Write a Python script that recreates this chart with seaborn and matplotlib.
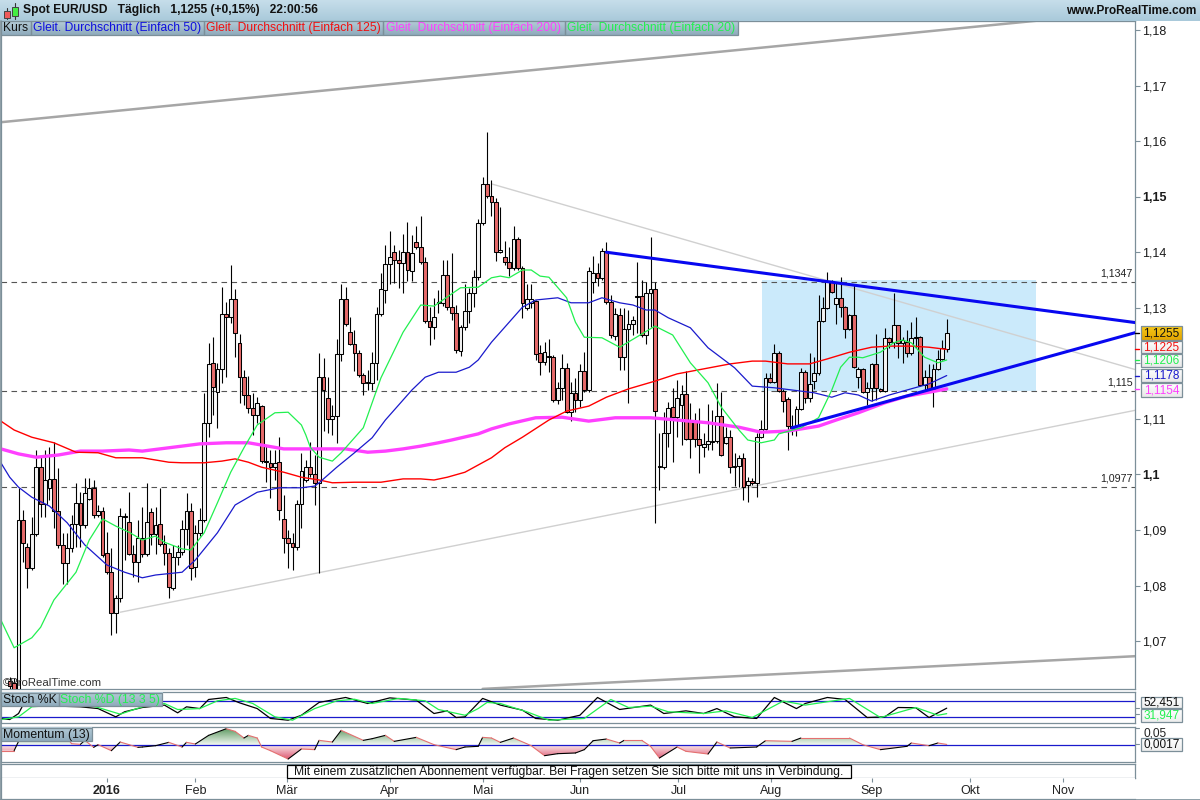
import numpy as np
import matplotlib
matplotlib.use('Agg')
import matplotlib.pyplot as plt
from matplotlib.colors import LinearSegmentedColormap
from matplotlib.patches import PathPatch, Rectangle
from matplotlib.path import Path
from matplotlib.transforms import blended_transform_factory
import seaborn as sns

# daily candles, values
opens = [1.0628, 1.0625, 1.0612, 1.0918, 1.0869, 1.0832, 1.0893, 1.1013, 1.0947, 1.0976,
         1.0992, 1.0934, 1.0873, 1.0841, 1.0868, 1.0911, 1.0949, 1.0909, 1.0956, 1.0976,
         1.0927, 1.0934, 1.0859, 1.0824, 1.0751, 1.0778, 1.0925, 1.0914, 1.0857, 1.0842,
         1.0886, 1.0857, 1.0932, 1.0893, 1.0911, 1.0875, 1.0859, 1.0796, 1.0851, 1.0860,
         1.0902, 1.0934, 1.0833, 1.0895, 1.0918, 1.1093, 1.1201, 1.1148, 1.1190, 1.1289,
         1.1283, 1.1316, 1.1237, 1.1175, 1.1143, 1.1120, 1.1107, 1.1123, 1.1024, 1.1021,
         1.1013, 1.1022, 1.0920, 1.0886, 1.0877, 1.0869, 1.0947, 1.0990, 1.1013, 1.1001,
         1.0985, 1.1175, 1.1138, 1.1100, 1.1105, 1.1217, 1.1316, 1.1256, 1.1235, 1.1219,
         1.1179, 1.1166, 1.1165, 1.1201, 1.1289, 1.1332, 1.1379, 1.1400, 1.1386, 1.1381,
         1.1400, 1.1366, 1.1418, 1.1409, 1.1382, 1.1276, 1.1265, 1.1309, 1.1309, 1.1359,
         1.1301, 1.1291, 1.1222, 1.1265, 1.1294, 1.1327, 1.1355, 1.1453, 1.1523, 1.1501,
         1.1490, 1.1400, 1.1391, 1.1382, 1.1372, 1.1424, 1.1372, 1.1300, 1.1309, 1.1312,
         1.1219, 1.1202, 1.1213, 1.1211, 1.1134, 1.1156, 1.1192, 1.1112, 1.1147, 1.1134,
         1.1186, 1.1152, 1.1346, 1.1363, 1.1354, 1.1402, 1.1310, 1.1249, 1.1287, 1.1211,
         1.1262, 1.1271, 1.1321, 1.1321, 1.1251, 1.1327, 1.1334, 1.1013, 1.1013, 1.1075,
         1.1121, 1.1103, 1.1125, 1.1145, 1.1096, 1.1096, 1.1064, 1.1049, 1.1055, 1.1058,
         1.1060, 1.1105, 1.1057, 1.1067, 1.1013, 1.1015, 1.1030, 1.0981, 1.0988, 1.0985,
         1.1067, 1.1082, 1.1174, 1.1166, 1.1219, 1.1150, 1.1136, 1.1084, 1.1087, 1.1118,
         1.1184, 1.1138, 1.1168, 1.1183, 1.1276, 1.1300, 1.1346, 1.1307, 1.1318, 1.1301,
         1.1262, 1.1287, 1.1175, 1.1190, 1.1148, 1.1156, 1.1199, 1.1154, 1.1150, 1.1246,
         1.1238, 1.1269, 1.1237, 1.1238, 1.1219, 1.1247, 1.1247, 1.1161, 1.1175, 1.1154,
         1.1190, 1.1208, 1.1226]
closes = [1.0619, 1.0612, 1.0918, 1.0877, 1.0832, 1.0893, 1.1013, 1.0947, 1.0990, 1.0992,
          1.0934, 1.0873, 1.0841, 1.0868, 1.0911, 1.0949, 1.0909, 1.0967, 1.0976, 1.0927,
          1.0934, 1.0855, 1.0824, 1.0751, 1.0778, 1.0925, 1.0923, 1.0857, 1.0842, 1.0886,
          1.0857, 1.0914, 1.0893, 1.0909, 1.0875, 1.0859, 1.0797, 1.0851, 1.0860, 1.0902,
          1.0934, 1.0832, 1.0895, 1.0918, 1.1093, 1.1199, 1.1157, 1.1190, 1.1289, 1.1283,
          1.1316, 1.1255, 1.1175, 1.1143, 1.1120, 1.1107, 1.1129, 1.1024, 1.1022, 1.1013,
          1.1021, 1.0936, 1.0886, 1.0877, 1.0869, 1.0947, 1.1006, 1.1013, 1.1001, 1.0985,
          1.1175, 1.1152, 1.1100, 1.1105, 1.1217, 1.1316, 1.1271, 1.1235, 1.1219, 1.1179,
          1.1165, 1.1165, 1.1201, 1.1289, 1.1334, 1.1379, 1.1391, 1.1386, 1.1381, 1.1400,
          1.1368, 1.1399, 1.1409, 1.1382, 1.1276, 1.1265, 1.1283, 1.1310, 1.1359, 1.1301,
          1.1291, 1.1224, 1.1265, 1.1294, 1.1327, 1.1355, 1.1453, 1.1523, 1.1501, 1.1490,
          1.1400, 1.1404, 1.1382, 1.1372, 1.1424, 1.1372, 1.1309, 1.1316, 1.1316, 1.1217,
          1.1202, 1.1220, 1.1211, 1.1134, 1.1156, 1.1192, 1.1112, 1.1147, 1.1134, 1.1186,
          1.1152, 1.1366, 1.1363, 1.1354, 1.1402, 1.1310, 1.1251, 1.1289, 1.1211, 1.1262,
          1.1271, 1.1278, 1.1319, 1.1251, 1.1327, 1.1334, 1.1114, 1.1015, 1.1075, 1.1120,
          1.1103, 1.1138, 1.1145, 1.1064, 1.1064, 1.1064, 1.1053, 1.1055, 1.1060, 1.1060,
          1.1105, 1.1035, 1.1067, 1.1013, 1.1015, 1.1030, 1.0977, 1.0988, 1.0985, 1.1067,
          1.1082, 1.1174, 1.1166, 1.1219, 1.1150, 1.1132, 1.1087, 1.1087, 1.1118, 1.1184,
          1.1138, 1.1163, 1.1183, 1.1276, 1.1300, 1.1346, 1.1328, 1.1318, 1.1301, 1.1262,
          1.1287, 1.1193, 1.1190, 1.1148, 1.1156, 1.1199, 1.1156, 1.1150, 1.1246, 1.1238,
          1.1269, 1.1237, 1.1242, 1.1219, 1.1246, 1.1246, 1.1161, 1.1175, 1.1154, 1.1190,
          1.1208, 1.1228, 1.1255]
highs = [1.0635, 1.0634, 1.0976, 1.0936, 1.0877, 1.0923, 1.1044, 1.1031, 1.1044, 1.1049,
         1.1058, 1.1012, 1.0895, 1.0895, 1.0927, 1.0985, 1.0968, 1.0994, 1.0994, 1.0990,
         1.0945, 1.0941, 1.0896, 1.0868, 1.0783, 1.0940, 1.0931, 1.0968, 1.0873, 1.0918,
         1.0941, 1.0985, 1.0940, 1.0941, 1.0976, 1.0891, 1.0868, 1.0873, 1.0873, 1.0918,
         1.0967, 1.0949, 1.0909, 1.0940, 1.1147, 1.1237, 1.1247, 1.1201, 1.1337, 1.1310,
         1.1377, 1.1334, 1.1253, 1.1188, 1.1177, 1.1147, 1.1139, 1.1125, 1.1053, 1.1044,
         1.1044, 1.1067, 1.0963, 1.0900, 1.0895, 1.0954, 1.1039, 1.1026, 1.1058, 1.1035,
         1.1219, 1.1210, 1.1175, 1.1125, 1.1244, 1.1343, 1.1337, 1.1283, 1.1260, 1.1224,
         1.1183, 1.1188, 1.1220, 1.1301, 1.1363, 1.1413, 1.1438, 1.1413, 1.1404, 1.1433,
         1.1454, 1.1431, 1.1447, 1.1465, 1.1391, 1.1301, 1.1318, 1.1332, 1.1386, 1.1386,
         1.1399, 1.1305, 1.1269, 1.1343, 1.1336, 1.1368, 1.1460, 1.1535, 1.1616, 1.1530,
         1.1498, 1.1481, 1.1420, 1.1409, 1.1447, 1.1427, 1.1375, 1.1343, 1.1343, 1.1314,
         1.1233, 1.1238, 1.1244, 1.1215, 1.1166, 1.1217, 1.1201, 1.1166, 1.1174, 1.1199,
         1.1220, 1.1373, 1.1393, 1.1381, 1.1408, 1.1418, 1.1323, 1.1300, 1.1300, 1.1300,
         1.1296, 1.1285, 1.1382, 1.1350, 1.1346, 1.1427, 1.1346, 1.1075, 1.1112, 1.1130,
         1.1156, 1.1170, 1.1161, 1.1186, 1.1129, 1.1111, 1.1120, 1.1075, 1.1127, 1.1116,
         1.1165, 1.1148, 1.1085, 1.1080, 1.1039, 1.1035, 1.1039, 1.0995, 1.0994, 1.1075,
         1.1098, 1.1183, 1.1183, 1.1235, 1.1222, 1.1154, 1.1139, 1.1107, 1.1123, 1.1192,
         1.1188, 1.1219, 1.1211, 1.1323, 1.1319, 1.1364, 1.1350, 1.1346, 1.1355, 1.1303,
         1.1289, 1.1341, 1.1193, 1.1192, 1.1166, 1.1201, 1.1253, 1.1156, 1.1264, 1.1247,
         1.1327, 1.1269, 1.1247, 1.1260, 1.1274, 1.1283, 1.1249, 1.1188, 1.1199, 1.1199,
         1.1224, 1.1242, 1.1280]
lows = [1.0608, 1.0601, 1.0599, 1.0842, 1.0796, 1.0828, 1.0889, 1.0923, 1.0923, 1.0954,
        1.0904, 1.0868, 1.0803, 1.0803, 1.0860, 1.0869, 1.0869, 1.0904, 1.0954, 1.0922,
        1.0923, 1.0851, 1.0821, 1.0711, 1.0715, 1.0770, 1.0846, 1.0855, 1.0815, 1.0806,
        1.0851, 1.0853, 1.0873, 1.0857, 1.0871, 1.0837, 1.0778, 1.0792, 1.0837, 1.0855,
        1.0873, 1.0810, 1.0815, 1.0889, 1.0914, 1.1067, 1.1107, 1.1084, 1.1165, 1.1175,
        1.1273, 1.1211, 1.1129, 1.1125, 1.1111, 1.1071, 1.1093, 1.1020, 1.0986, 1.0958,
        1.0990, 1.0918, 1.0859, 1.0832, 1.0828, 1.0864, 1.0904, 1.0986, 1.0995, 1.0945,
        1.0823, 1.1078, 1.1075, 1.1071, 1.1057, 1.1204, 1.1267, 1.1233, 1.1186, 1.1175,
        1.1143, 1.1152, 1.1152, 1.1170, 1.1285, 1.1309, 1.1343, 1.1345, 1.1336, 1.1327,
        1.1348, 1.1348, 1.1406, 1.1379, 1.1273, 1.1233, 1.1244, 1.1291, 1.1303, 1.1296,
        1.1278, 1.1219, 1.1213, 1.1260, 1.1273, 1.1301, 1.1350, 1.1449, 1.1498, 1.1465,
        1.1384, 1.1399, 1.1377, 1.1357, 1.1368, 1.1368, 1.1282, 1.1296, 1.1300, 1.1206,
        1.1179, 1.1197, 1.1184, 1.1130, 1.1127, 1.1134, 1.1111, 1.1096, 1.1112, 1.1121,
        1.1148, 1.1148, 1.1327, 1.1339, 1.1350, 1.1307, 1.1246, 1.1242, 1.1188, 1.1188,
        1.1129, 1.1251, 1.1255, 1.1247, 1.1235, 1.1265, 1.0913, 1.0972, 1.1010, 1.1049,
        1.1022, 1.1067, 1.1053, 1.1062, 1.1030, 1.1049, 1.1003, 1.1031, 1.1044, 1.1044,
        1.1057, 1.1033, 1.1055, 1.1003, 1.0979, 1.0977, 1.0954, 1.0950, 1.0981, 1.0959,
        1.1066, 1.1080, 1.1165, 1.1165, 1.1148, 1.1112, 1.1044, 1.1071, 1.1069, 1.1116,
        1.1129, 1.1130, 1.1154, 1.1179, 1.1274, 1.1298, 1.1327, 1.1271, 1.1283, 1.1246,
        1.1260, 1.1192, 1.1156, 1.1147, 1.1125, 1.1132, 1.1134, 1.1148, 1.1148, 1.1228,
        1.1228, 1.1210, 1.1201, 1.1211, 1.1215, 1.1228, 1.1159, 1.1148, 1.1152, 1.1121,
        1.1188, 1.1206, 1.1220]

# moving averages: bar number and level
sma20_bars = [-2, 1, 5, 7, 10, 15, 18, 21, 24, 27, 30, 33, 35, 39, 41, 44, 47, 50, 53, 56, 60, 63, 66, 67,
              68, 70, 73, 75, 80, 84, 89, 93, 96, 102, 106, 109, 111, 113, 116, 118, 120, 122, 126, 128,
              130, 134, 138, 146, 150, 154, 158, 161, 165, 167, 170, 173, 174, 179, 183, 186, 188, 190,
              192, 193, 197, 200, 202, 204, 207, 210, 212]
sma20_vals = [1.0738, 1.0688, 1.0706, 1.0725, 1.0774, 1.0824, 1.0882, 1.0920, 1.0907, 1.0896, 1.0882, 1.0889,
              1.0878, 1.0866, 1.0864, 1.0895, 1.0949, 1.1004, 1.1048, 1.1089, 1.1111, 1.1112, 1.1089, 1.1071,
              1.1049, 1.1031, 1.1024, 1.1039, 1.1084, 1.1174, 1.1256, 1.1305, 1.1303, 1.1336, 1.1337, 1.1354,
              1.1357, 1.1354, 1.1368, 1.1368, 1.1357, 1.1355, 1.1318, 1.1274, 1.1247, 1.1246, 1.1229, 1.1267,
              1.1251, 1.1201, 1.1165, 1.1121, 1.1080, 1.1062, 1.1057, 1.1062, 1.1073, 1.1084, 1.1102, 1.1152,
              1.1193, 1.1211, 1.1211, 1.1210, 1.1220, 1.1237, 1.1242, 1.1237, 1.1211, 1.1201, 1.1206]
sma50_bars = [-2, 0, 2, 5, 9, 13, 17, 22, 26, 30, 33, 39, 42, 47, 51, 56, 61, 66, 69, 70, 74, 78, 82, 85, 88,
              91, 94, 97, 101, 104, 106, 109, 113, 116, 119, 124, 127, 131, 134, 138, 141, 144, 146, 149,
              154, 158, 164, 168, 173, 177, 182, 186, 189, 192, 195, 199, 203, 208, 212]
sma50_vals = [1.1021, 1.0995, 1.0977, 1.0959, 1.0943, 1.0913, 1.0873, 1.0837, 1.0824, 1.0814, 1.0819, 1.0824,
              1.0846, 1.0895, 1.0945, 1.0968, 1.0976, 1.0976, 1.0979, 1.0985, 1.1013, 1.1039, 1.1066, 1.1098,
              1.1125, 1.1152, 1.1175, 1.1184, 1.1184, 1.1193, 1.1206, 1.1238, 1.1274, 1.1301, 1.1314, 1.1318,
              1.1309, 1.1309, 1.1318, 1.1309, 1.1305, 1.1296, 1.1296, 1.1282, 1.1264, 1.1228, 1.1192, 1.1159,
              1.1156, 1.1152, 1.1147, 1.1139, 1.1147, 1.1143, 1.1132, 1.1143, 1.1152, 1.1163, 1.1178]
sma125_bars = [-2, 1, 5, 10, 15, 20, 24, 30, 36, 39, 44, 48, 51, 54, 57, 62, 66, 70, 73, 78, 84, 89, 93, 96, 99,
               103, 106, 109, 112, 116, 122, 126, 131, 135, 140, 146, 151, 157, 163, 168, 171, 176, 181, 185,
               190, 195, 199, 204, 208, 212]
sma125_vals = [1.1096, 1.1080, 1.1067, 1.1057, 1.1040, 1.1039, 1.1030, 1.1030, 1.1022, 1.1021, 1.1021, 1.1024,
               1.1028, 1.1022, 1.1013, 1.1004, 1.0995, 1.0990, 1.0985, 1.0986, 1.0986, 1.0992, 1.0992, 1.0990,
               1.0995, 1.1004, 1.1017, 1.1030, 1.1048, 1.1067, 1.1098, 1.1114, 1.1123, 1.1139, 1.1154, 1.1168,
               1.1181, 1.1190, 1.1199, 1.1204, 1.1204, 1.1199, 1.1199, 1.1208, 1.1220, 1.1229, 1.1231, 1.1231,
               1.1229, 1.1225]
sma200_bars = [-2, 2, 6, 11, 16, 21, 27, 30, 36, 43, 49, 54, 62, 70, 76, 81, 85, 89, 93, 97, 100, 106, 109, 113,
               119, 125, 131, 137, 145, 151, 158, 165, 170, 176, 183, 187, 192, 198, 203, 208, 212]
sma200_vals = [1.1046, 1.1037, 1.1031, 1.1035, 1.1042, 1.1042, 1.1044, 1.1042, 1.1048, 1.1055, 1.1057, 1.1057,
               1.1046, 1.1046, 1.1046, 1.1040, 1.1042, 1.1046, 1.1051, 1.1057, 1.1062, 1.1073, 1.1082, 1.1091,
               1.1102, 1.1103, 1.1096, 1.1102, 1.1102, 1.1098, 1.1093, 1.1085, 1.1076, 1.1078, 1.1087, 1.1098,
               1.1111, 1.1129, 1.1141, 1.1148, 1.1154]

# drawn trend lines, support/resistance levels and the marked range
wide_gray_up = ([-2, 234], [1.1634, 1.1818])
wide_gray_low = ([107, 255], [1.0614, 1.0673])
thin_gray_down = ([109, 255], [1.1523, 1.1188])
thin_gray_up = ([25, 255], [1.0752, 1.1116])
blue_down = ([135, 255], [1.1400, 1.1273])
blue_up = ([177, 255], [1.1084, 1.1256])
levels = [1.1347, 1.115, 1.0977]
range_bars = [170.2, 232.2]
range_vals = [1.115, 1.135]

# stochastic
stoch_k_bars = [-2, 0, 2, 3, 16, 20, 24, 26, 30, 35, 38, 40, 43, 45, 49, 52, 56, 59, 63, 66, 70, 76, 81, 86, 92, 96,
                99, 101, 103, 107, 111, 116, 119, 124, 129, 133, 138, 145, 148, 153, 157, 160, 164, 169, 173,
                178, 180, 185, 189, 194, 198, 201, 205, 208, 212]
stoch_k_vals = [14, 10, 32.5, 64, 57.5, 51, 20, 39, 55, 64, 35, 57.5, 51, 85, 92.5, 72.5, 51, 14, 7.5, 26, 74, 92.5,
                70, 91, 82.5, 32.5, 42.5, 17.5, 20, 89, 64, 45, 14, 7.5, 26, 92.5, 47.5, 64, 32.5, 42.5, 32.5, 51,
                20, 14, 92.5, 51, 70, 92.5, 85, 17.5, 20, 55, 54, 17.5, 52.451]
stoch_d_bars = [-2, 2, 5, 16, 20, 25, 30, 35, 38, 43, 47, 51, 55, 60, 64, 69, 74, 78, 82, 88, 94, 97, 103, 106, 108,
                111, 117, 122, 130, 136, 140, 145, 149, 157, 162, 168, 175, 180, 190, 197, 205, 210, 212]
stoch_d_vals = [10, 20, 57.5, 70, 55, 30, 57.5, 70, 47.5, 51, 80, 89, 70, 20, 7.5, 51, 80, 86, 70, 89, 80, 47.5, 26,
                51, 74, 70, 39, 7.5, 14, 85, 55, 60, 39, 32.5, 42.5, 17.5, 79, 64, 89, 17.5, 55, 26, 31.947]
stoch_bands = [80, 20]

# momentum
mom_bars = [-2, 1, 2, 7, 13, 14, 16, 17, 19, 20, 23, 25, 27, 29, 30, 33, 36, 39, 40, 42, 45, 49, 51, 53, 54, 56, 57, 59,
            63, 66, 69, 70, 73, 75, 80, 82, 85, 87, 92, 96, 101, 103, 106, 107, 109, 111, 114, 118, 121, 124, 128,
            130, 132, 135, 138, 139, 143, 145, 147, 151, 153, 158, 160, 163, 169, 171, 177, 179, 190, 193, 197,
            203, 204, 208, 210, 212]
mom_vals = [-.0167, -.0167, .0108, .0304, .0206, .0039, .0020, .0137, -.0069, .0010, -.0167, .0088, .0010, -.0069,
            -.0059, -.0020, .0078, -.0059, .0078, .0029, .0284, .0480, .0402, .0206, .0284, .0206, -.0059, -.0167,
            -.0412, -.0118, -.0137, .0137, .0088, .0431, .0137, .0186, .0284, .0108, .0225, .0010, -.0137, -.0059,
            -.0039, .0225, .0206, .0078, .0206, -.0020, -.0314, -.0255, -.0235, -.0137, .0127, .0176, .0059, .0137,
            .0137, -.0039, -.0382, -.0059, -.0186, -.0265, .0088, -.0088, -.0059, .0127, .0108, .0206, .0206, .0010,
            -.0137, -.0039, .0059, -.0020, .0059, .0017]

# axis labels; 1,12 sits under the value tags and shows only its tick
price_ticks = [1.07, 1.08, 1.09, 1.10, 1.11, 1.12, 1.13, 1.14, 1.15, 1.16, 1.17, 1.18]
price_labels = ['1,07', '1,08', '1,09', '1,1', '1,11', '', '1,13', '1,14', '1,15', '1,16', '1,17', '1,18']
month_bars = [22, 42, 62.7, 86, 107.1, 129, 151.3, 172.2, 195.1, 217.3, 238.3]
month_names = ['2016', 'Feb', 'Mär', 'Apr', 'Mai', 'Jun', 'Jul', 'Aug', 'Sep', 'Okt', 'Nov']

FRAME = '#7c8f99'
BAR_RANGE = (-1.97, 254.6)
W, H = 1200, 800

sns.set_theme(style='white')
plt.rcParams['font.family'] = ['Liberation Sans', 'DejaVu Sans']
plt.rcParams['font.size'] = 8.5

fig = plt.figure(figsize=(12, 8), dpi=100)


def px_axes(left, top, right, bottom):
    ax = fig.add_axes([left / W, 1 - bottom / H, (right - left) / W, (bottom - top) / H])
    for s in ax.spines.values():
        s.set_color(FRAME)
        s.set_linewidth(0.9)
    ax.set_xlim(*BAR_RANGE)
    ax.set_xticks([])
    return ax


def comma(v, digits):
    return f'{v:.{digits}f}'.replace('.', ',')


# price panel
ax = px_axes(1, 21, 1135, 689)
ax.set_ylim(1.06138, 1.18162)
ax.yaxis.tick_right()
ax.set_yticks(price_ticks)
ax.set_yticklabels(price_labels)
ax.tick_params(axis='y', length=3.5, width=0.8, color=FRAME, pad=1.5, labelsize=9, labelcolor='#1a1a1a')
for name, lab in zip(price_labels, ax.get_yticklabels()):
    if name in ('1,1', '1,15'):
        lab.set_fontweight('bold')

ax.add_patch(Rectangle((range_bars[0], range_vals[0]), range_bars[1] - range_bars[0],
                       range_vals[1] - range_vals[0], facecolor='#cbeafb', edgecolor='none', zorder=1))
for lv in levels:
    ax.axhline(lv, color='#555555', lw=0.8, ls=(0, (5, 4)), zorder=2)
    ax.annotate(comma(lv, 4 if round(lv, 3) != 1.115 else 3), (1, lv), xycoords=('axes fraction', 'data'),
                xytext=(-1.5, 2.5), textcoords='offset points', ha='right', va='bottom', fontsize=7.7,
                color='#222222')

for seg, col, lw in [(wide_gray_up, '#a6a6a6', 1.8), (wide_gray_low, '#a6a6a6', 1.8),
                     (thin_gray_down, '#d0d0d0', 1.0), (thin_gray_up, '#d0d0d0', 1.0)]:
    sns.lineplot(x=seg[0], y=seg[1], ax=ax, color=col, linewidth=lw, estimator=None, zorder=2)

x = np.arange(len(opens))
o, c, h, l = map(np.array, (opens, closes, highs, lows))
up = c >= o
ax.vlines(x, l, h, color='black', lw=0.8, zorder=3)
ax.bar(x, c - o, bottom=o, width=0.86, color=np.where(up, '#f3f3f3', '#e56a6a'), edgecolor='black',
       linewidth=0.75, zorder=4)

for bx, vy, col, lw in [(sma200_bars, sma200_vals, '#ff40ff', 2.4), (sma125_bars, sma125_vals, '#ff0000', 1.0),
                        (sma50_bars, sma50_vals, '#1a1acc', 0.9), (sma20_bars, sma20_vals, '#22f050', 0.9)]:
    sns.lineplot(x=bx, y=vy, ax=ax, color=col, linewidth=lw, estimator=None, zorder=5)
for seg in (blue_down, blue_up):
    sns.lineplot(x=seg[0], y=seg[1], ax=ax, color='#0808f0', linewidth=2.2, estimator=None, zorder=6)

# little coloured marks on the price scale
tr = blended_transform_factory(ax.transAxes, ax.transData)
for val, col in [(closes[-1], 'black'), (sma125_vals[-1], 'red'), (sma20_vals[-1], '#22f050'),
                 (sma50_vals[-1], '#1a1acc'), (sma200_vals[-1], '#ff40ff')]:
    ax.plot([1.0, 1.0035], [val, val], transform=tr, color=col, lw=1, clip_on=False, zorder=7)
ax.set_xlim(*BAR_RANGE)
ax.set_ylim(1.06138, 1.18162)

# stochastic panel
ax_st = px_axes(1, 692, 1135, 723)
sns.lineplot(x=stoch_k_bars, y=stoch_k_vals, ax=ax_st, color='black', linewidth=0.9, estimator=None, zorder=3)
sns.lineplot(x=stoch_d_bars, y=stoch_d_vals, ax=ax_st, color='#22f050', linewidth=0.9, estimator=None, zorder=4)
for b in stoch_bands:
    ax_st.axhline(b, color='#1a1acc', lw=0.9, zorder=2)
ax_st.set_ylim(-3, 113)
ax_st.set_yticks([])
tr = blended_transform_factory(ax_st.transAxes, ax_st.transData)
for val in (stoch_k_vals[-1], stoch_d_vals[-1]):
    ax_st.plot([1.0, 1.0035], [val, val], transform=tr, color=FRAME, lw=0.8, clip_on=False)

# momentum panel
ax_m = px_axes(1, 727, 1135, 762)
top_val, bot_val = 0.053, -0.05
mb, mv = np.array(mom_bars, float), np.array(mom_vals)
green_map = LinearSegmentedColormap.from_list('g', ['#5e9a62', '#f2f8f2'])
red_map = LinearSegmentedColormap.from_list('r', ['#fbeef0', '#de5a74'])
for cond, cmap, grad_low, grad_high in [(mv >= 0, green_map, 0, 0.05), (mv <= 0, red_map, -0.0425, 0)]:
    band = ax_m.fill_between(mb, mv, 0, where=cond, interpolate=True, color='none')
    im = ax_m.imshow(np.linspace(0, 1, 64)[:, None], extent=[mb[0], mb[-1], grad_low, grad_high], aspect='auto',
                     cmap=cmap, zorder=2)
    clip = Path.make_compound_path(*band.get_paths())
    im.set_clip_path(PathPatch(clip, transform=ax_m.transData))
rising = np.diff(mv) > 0
for i in range(len(rising)):
    seg_col = 'black' if rising[i] else '#e47070'
    ax_m.plot(mb[i:i + 2], mv[i:i + 2], color=seg_col, lw=0.8, zorder=4)
ax_m.axhline(0, color='#1a1acc', lw=0.9, zorder=3)
ax_m.set_xlim(*BAR_RANGE)
ax_m.set_ylim(bot_val, top_val)
ax_m.set_yticks([])
tr = blended_transform_factory(ax_m.transAxes, ax_m.transData)
for val in (0.05, mom_vals[-1]):
    ax_m.plot([1.0, 1.0035], [val, val], transform=tr, color=FRAME, lw=0.8, clip_on=False)

# message strip and time axis
ax_msg = px_axes(1, 764, 1135, 778)
ax_msg.set_yticks([])
ax_t = px_axes(1, 778, 1135, 799)
ax_t.set_yticks([])
ax_t.set_xticks(month_bars)
ax_t.tick_params(axis='x', direction='in', top=True, bottom=False, labelbottom=False, length=3, width=0.8, color=FRAME)
ax_t.spines['right'].set_visible(False)
ax_t.spines['top'].set_visible(False)
tr = blended_transform_factory(ax_t.transData, ax_t.transAxes)
for bar, name in zip(month_bars, month_names):
    ax_t.text(bar, 0.38, name, transform=tr, ha='center', va='center', fontsize=9, color='#222222',
              fontweight='bold' if name == '2016' else 'normal')

# header, tags and labels drawn in figure pixels
ov = fig.add_axes([0, 0, 1, 1], zorder=20)
ov.patch.set_alpha(0)
ov.axis('off')


def grad(x0, y0, x1, y1, top, bottom, edge=FRAME):
    cmap = LinearSegmentedColormap.from_list('b', [top, bottom])
    ov.imshow(np.linspace(0, 1, 32)[:, None], extent=[x0, x1, y1, y0], aspect='auto', cmap=cmap, zorder=1)
    if edge:
        ov.add_patch(Rectangle((x0, y0), x1 - x0, y1 - y0, fill=False, edgecolor=edge, lw=0.9, zorder=2))


grad(0, 0, 1200, 21, '#c6deea', '#a9c9da', edge=None)
ov.plot([6.5, 6.5], [8, 19], color='#333333', lw=0.8, zorder=3)
ov.add_patch(Rectangle((3.5, 10.5), 6, 7, facecolor='#ee5a5a', edgecolor='#444444', lw=0.7, zorder=4))
ov.plot([14.5, 14.5], [3, 19], color='#333333', lw=0.8, zorder=3)
ov.add_patch(Rectangle((11.5, 6.5), 6, 9, facecolor='#44ee44', edgecolor='#444444', lw=0.7, zorder=4))
ov.text(23, 10.5, 'Spot EUR/USD   Täglich   1,1255 (+0,15%)   22:00:56', ha='left', va='center',
        fontsize=8.65, fontweight='bold', color='#111111', zorder=5)
ov.text(1196, 10.5, 'www.ProRealTime.com', ha='right', va='center', fontsize=8.6, fontweight='bold',
        color='#111111', zorder=5)

for x0, x1, txt, col in [(1, 30.5, 'Kurs', '#111111'),
                         (30.5, 203.5, 'Gleit. Durchschnitt (Einfach 50)', '#1010dd'),
                         (203.5, 382.5, 'Gleit. Durchschnitt (Einfach 125)', '#f01010'),
                         (382.5, 564.5, 'Gleit. Durchschnitt (Einfach 200)', '#ff40ff'),
                         (564.5, 737.5, 'Gleit. Durchschnitt (Einfach 20)', '#22f050')]:
    grad(x0, 21, x1, 35, '#b4cbd7', '#8fabbc')
    ov.text((x0 + x1) / 2, 28.2, txt, ha='center', va='center', fontsize=8.7, color=col, zorder=5)

for x0, y0, x1, y1, txt, col in [(1, 692.5, 58.5, 706, 'Stoch %K', '#111111'),
                                 (58.5, 692.5, 162, 706, 'Stoch %D (13 3 5)', '#22f050'),
                                 (1, 727.5, 91.5, 741, 'Momentum (13)', '#111111')]:
    grad(x0, y0, x1, y1, '#b4cbd7', '#8fabbc')
    ov.text((x0 + x1) / 2, (y0 + y1) / 2 + 0.3, txt, ha='center', va='center', fontsize=8.8, color=col, zorder=5)

ov.text(3, 683, '©ProRealTime.com', ha='left', va='center', fontsize=8.2, color='#333333', zorder=5)

# value tags at the right; red tag first since the green one overlaps it
tags = [(326, 340, closes[-1], 4, '#111111', '#f7c91a', '#e2a400'),
        (341, 353, sma125_vals[-1], 4, '#f01010', '#ffffff', '#e8e8e8'),
        (354, 367, sma20_vals[-1], 4, '#22f050', '#ffffff', '#e8e8e8'),
        (369, 382, sma50_vals[-1], 4, '#1a1acc', '#ffffff', '#e8e8e8'),
        (383, 397, sma200_vals[-1], 4, '#ff40ff', '#ffffff', '#e8e8e8'),
        (697, 708, stoch_k_vals[-1], 3, '#111111', '#ffffff', '#eeeeee'),
        (709, 722, stoch_d_vals[-1], 3, '#22f050', '#ffffff', '#eeeeee'),
        (738, 751, mom_vals[-1], 4, '#111111', '#ffffff', '#eeeeee')]
for y0, y1, val, dig, col, t_col, b_col in tags:
    grad(1141, y0, 1182, y1, t_col, b_col)
    ov.text(1161.5, (y0 + y1) / 2 + 0.3, comma(val, dig), ha='center', va='center', fontsize=8.5, color=col,
            zorder=5)
ov.text(1143, 733, '0,05', ha='left', va='center', fontsize=8.6, color='#222222', zorder=5)

ov.add_patch(Rectangle((286.5, 765), 564, 13, facecolor='white', edgecolor='black', lw=0.9, zorder=3))
ov.text(568.5, 771.5, 'Mit einem zusätzlichen Abonnement verfügbar. Bei Fragen setzen Sie sich bitte mit uns in Verbindung.',
        ha='center', va='center', fontsize=8.75, color='#111111', zorder=5)

ov.plot([0, 1200], [799.5, 799.5], color=FRAME, lw=1.2, zorder=3)
ov.plot([0.5, 0.5], [21, 800], color=FRAME, lw=1.2, zorder=3)
ov.set_xlim(0, W)
ov.set_ylim(H, 0)

fig.savefig('out.png', dpi=100)
